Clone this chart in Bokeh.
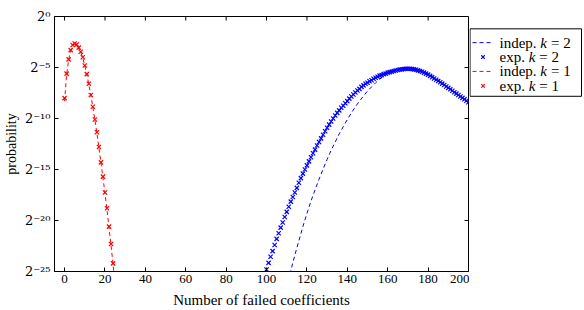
from bokeh.plotting import figure
from bokeh.layouts import row
from bokeh.models import Range1d, FixedTicker
from bokeh.core.properties import value
from bokeh.embed import file_html
from bokeh.resources import INLINE

# ---- data (y values are log2 of probability) ----
x_exp1 = list(range(0, 25))
y_exp1 = [-8.0, -5.6, -4.2, -3.3, -2.8, -2.65, -2.75, -3.05, -3.45, -4.0,
          -4.8, -5.65, -6.6, -7.7, -8.85, -10.1, -11.35, -12.8, -14.3, -15.7,
          -17.25, -18.8, -20.6, -22.3, -24.2]

x_ind1 = list(range(0, 26))
y_ind1 = [-8.3, -5.7, -4.25, -3.35, -2.85, -2.68, -2.78, -3.1, -3.5, -4.05,
          -4.85, -5.7, -6.65, -7.75, -8.9, -10.15, -11.45, -12.85, -14.35, -15.8,
          -17.35, -18.95, -20.7, -22.45, -24.3, -26.2]

x_exp2 = list(range(100, 201))
y_exp2 = [-24.8, -24.15, -23.55, -23.0, -22.4, -21.8, -21.25, -20.7, -20.2, -19.65,
          -19.15, -18.65, -18.15, -17.7, -17.25, -16.8, -16.3, -15.85, -15.4, -15.0,
          -14.6, -14.2, -13.8, -13.4, -13.05, -12.65, -12.3, -11.95, -11.6, -11.25,
          -10.9, -10.6, -10.3, -10.0, -9.7, -9.45, -9.2, -8.95, -8.75, -8.5,
          -8.3, -8.05, -7.85, -7.65, -7.45, -7.25, -7.1, -6.9, -6.75, -6.6,
          -6.5, -6.35, -6.25, -6.1, -6.0, -5.9, -5.8, -5.75, -5.65, -5.6,
          -5.5, -5.45, -5.4, -5.35, -5.3, -5.25, -5.2, -5.18, -5.15, -5.13,
          -5.12, -5.13, -5.15, -5.18, -5.22, -5.28, -5.35, -5.42, -5.5, -5.6,
          -5.7, -5.82, -5.95, -6.08, -6.2, -6.32, -6.45, -6.58, -6.72, -6.86,
          -7.0, -7.14, -7.28, -7.42, -7.56, -7.7, -7.84, -7.98, -8.12, -8.26,
          -8.4]

x_ind2 = [110, 112, 114, 116, 118, 120, 122, 124, 126, 128, 130, 132, 134, 136,
          138, 140, 142, 144, 146, 148, 150, 152, 154, 156, 158, 160, 162, 164,
          166, 168, 170, 172, 174, 176, 178, 180, 182, 184, 186, 188, 190, 192,
          194, 196, 198, 200]
y_ind2 = [-26.6, -24.9, -23.4, -22.0, -20.6, -19.3, -18.1, -17.0, -15.95, -14.95,
          -14.0, -13.1, -12.3, -11.5, -10.8, -10.1, -9.45, -8.85, -8.3, -7.8,
          -7.3, -6.9, -6.5, -6.15, -5.85, -5.6, -5.4, -5.25, -5.15, -5.08,
          -5.05, -5.07, -5.13, -5.25, -5.4, -5.6, -5.82, -6.07, -6.35, -6.65,
          -6.95, -7.25, -7.55, -7.85, -8.15, -8.45]

x_ticks = [0, 20, 40, 60, 80, 100, 120, 140, 160, 180, 200]
y_ticks = [-25, -20, -15, -10, -5, 0]
y_tick_labels = ["2\u207b\u00b2\u2075", "2\u207b\u00b2\u2070", "2\u207b\u00b9\u2075",
                 "2\u207b\u00b9\u2070", "2\u207b\u2075", "2\u2070"]

legend_prefix = ["indep.", "exp.", "indep.", "exp."]
legend_var = ["k", "k", "k", "k"]
legend_rhs = ["= 2", "= 2", "= 1", "= 1"]

FONT = "Liberation Serif"
BLUE = "#0000ff"
RED = "#ff0000"
X0, X1 = -5, 200
Y0, Y1 = -25, 0
W, H = 469, 310          # main plot
LW = 584 - W             # legend panel width
BL, BR, BT, BB = 54, 1, 16, 39
TICK = 4  # px

p = figure(width=W, height=H, output_backend="svg", toolbar_location=None,
           x_range=Range1d(X0, X1), y_range=Range1d(Y0, Y1),
           min_border_left=BL, min_border_right=BR, min_border_top=BT,
           min_border_bottom=BB)
p.grid.visible = False
p.outline_line_color = "black"
p.outline_line_width = 1
p.background_fill_color = "white"
p.border_fill_color = "white"

styles = [dict(kind="line", color=BLUE), dict(kind="x", color=BLUE),
          dict(kind="line", color=RED), dict(kind="x", color=RED)]
series = [(x_ind2, y_ind2), (x_exp2, y_exp2), (x_ind1, y_ind1), (x_exp1, y_exp1)]

for (xs, ys), st in zip(series, styles):
    if st["kind"] == "line":
        p.line(xs, ys, line_color=st["color"], line_dash="4 3", line_width=1)
    else:
        p.scatter(xs, ys, marker="x", size=6, line_color=st["color"], line_width=1.2)

# mirrored inward ticks on top and right edges
dy = TICK * (Y1 - Y0) / (H - BT - BB)
dx = TICK * (X1 - X0) / (W - BL - BR)
p.segment(x0=x_ticks, y0=[Y1] * len(x_ticks), x1=x_ticks, y1=[Y1 - dy] * len(x_ticks),
          line_color="black", line_width=1)
p.segment(x0=[X1] * len(y_ticks), y0=y_ticks, x1=[X1 - dx] * len(y_ticks), y1=y_ticks,
          line_color="black", line_width=1)

def style_axis(ax):
    ax.major_tick_in = TICK
    ax.major_tick_out = 0
    ax.minor_tick_line_color = None
    ax.axis_line_color = "black"
    ax.major_tick_line_color = "black"
    ax.major_label_text_font = FONT
    ax.major_label_text_font_size = "13px"
    ax.major_label_text_color = "black"
    ax.axis_label_text_font = FONT
    ax.axis_label_text_font_size = "15px"
    ax.axis_label_text_font_style = "normal"
    ax.axis_label_text_color = "black"

xa = p.xaxis[0]
xa.ticker = FixedTicker(ticks=x_ticks)
xa.axis_label = "Number of failed coefficients"
style_axis(xa)
xa.major_label_standoff = 3
xa.axis_label_standoff = 6

ya = p.yaxis[0]
ya.ticker = FixedTicker(ticks=y_ticks)
ya.major_label_overrides = {t: l for t, l in zip(y_ticks, y_tick_labels)}
ya.axis_label = "probability"
style_axis(ya)
ya.major_label_text_font = "DejaVu Serif"
ya.major_label_text_font_size = "13px"
ya.axis_label_text_font_size = "14px"
ya.major_label_standoff = 4
ya.axis_label_standoff = 3

# ---- legend panel (pixel coordinates: 1 unit = 1 px, origin bottom-left) ----
pl = figure(width=LW, height=H, output_backend="svg", toolbar_location=None,
            x_range=Range1d(0, LW), y_range=Range1d(0, H),
            x_axis_location=None, y_axis_location=None,
            min_border_left=0, min_border_right=0, min_border_top=0,
            min_border_bottom=0)
pl.grid.visible = False
pl.outline_line_color = None
pl.background_fill_color = "white"
pl.border_fill_color = "white"

LFS = 15                       # legend font size, px
box_left, box_right, box_top, box_bottom = 0.5, 112, H - 15, H - 97
row_h = (box_top - box_bottom - 12) / 4
row_y = [box_top - 8 - row_h * (i + 0.5) for i in range(4)]
g0, g1, tx = 3, 24, 30         # glyph start/end and text start

pl.quad(left=[box_left], right=[box_right], top=[box_top], bottom=[box_bottom],
        fill_color="white", line_color="black", line_width=1)

# Times/Liberation Serif advance widths (1/1000 em)
ADV = {"i": 278, "n": 500, "d": 500, "e": 444, "p": 500, ".": 250, "x": 500,
       " ": 250, "k": 444}

def width(s):
    return sum(ADV.get(c, 500) for c in s) * LFS / 1000.0

for i, st in enumerate(styles):
    y = row_y[i]
    if st["kind"] == "line":
        pl.segment(x0=[g0], x1=[g1], y0=[y], y1=[y], line_color=st["color"],
                   line_dash="4 3", line_width=1)
    else:
        pl.scatter([(g0 + g1) / 2], [y], marker="x", size=5, line_color=st["color"],
                   line_width=1.1)
    x_k = tx + width(legend_prefix[i] + " ")
    x_r = x_k + width(legend_var[i]) + 4
    pl.text([tx], [y], text=[legend_prefix[i]], text_font=value(FONT),
            text_font_size=f"{LFS}px", text_baseline="middle", text_color="black")
    pl.text([x_k], [y], text=[legend_var[i]], text_font=value(FONT),
            text_font_style="italic", text_font_size=f"{LFS}px",
            text_baseline="middle", text_color="black")
    pl.text([x_r], [y], text=[legend_rhs[i]], text_font=value(FONT),
            text_font_size=f"{LFS}px", text_baseline="middle", text_color="black")

lay = row(p, pl, spacing=0)
open("out.html", "w").write(file_html(lay, INLINE))
